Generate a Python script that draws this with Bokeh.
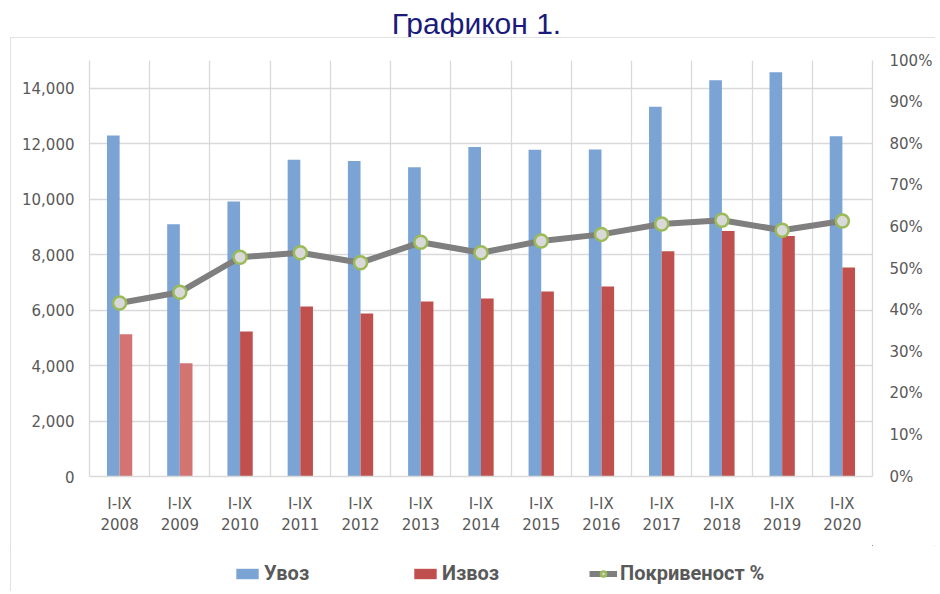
from bokeh.plotting import figure
from bokeh.models import (ColumnDataSource, FactorRange, Range1d, LinearAxis, NumeralTickFormatter,
                          PrintfTickFormatter, FixedTicker, Legend, LegendItem, Div)
from bokeh.transform import dodge
from bokeh.layouts import column
from bokeh.embed import file_html
from bokeh.resources import INLINE

# ---- data ----
period = "I-IX"
years = ["2008", "2009", "2010", "2011", "2012", "2013", "2014",
         "2015", "2016", "2017", "2018", "2019", "2020"]
imports = [12300, 9100, 9920, 11420, 11380, 11150, 11880, 11780, 11790, 13330, 14290, 14580, 12270]
exports = [5130, 4080, 5230, 6130, 5880, 6310, 6420, 6670, 6850, 8120, 8850, 8670, 7540]
coverage = [41.7, 44.3, 52.7, 53.8, 51.4, 56.3, 53.8, 56.6, 58.2, 60.7, 61.6, 59.2, 61.4]
left_ticks = [0, 2000, 4000, 6000, 8000, 10000, 12000, 14000]
right_ticks = [0, 10, 20, 30, 40, 50, 60, 70, 80, 90, 100]
series_names = ["Увоз", "Извоз", "Покривеност %"]
title_text = "Графикон 1."

factors = [f"{period}\n{y}" for y in years]
export_colors = ["#D47472", "#D47472"] + ["#C0504D"] * (len(years) - 2)

src = ColumnDataSource(dict(cat=factors, imp=imports, exp=exports, cov=coverage, ecol=export_colors))

TICK = "#595959"
GRID = "#d9d9d9"
BLUE = "#7BA3D3"
RED = "#C0504D"
LINE = "#7F7F7F"

p = figure(x_range=FactorRange(*factors), y_range=Range1d(0, 15000),
           width=925, height=508, output_backend="svg", toolbar_location=None,
           min_border_left=79, min_border_right=60, min_border_top=23, min_border_bottom=69,
           margin=(0, 0, 0, 0))
p.extra_y_ranges = {"pct": Range1d(0, 100)}
p.outline_line_color = None

p.vbar(x=dodge("cat", -0.105, range=p.x_range), top="imp", width=0.21, source=src,
       fill_color=BLUE, line_color=None)
p.vbar(x=dodge("cat", 0.105, range=p.x_range), top="exp", width=0.21, source=src,
       fill_color="ecol", line_color=None)
p.line(x="cat", y="cov", y_range_name="pct", source=src, line_color=LINE,
       line_width=6, line_join="round")
p.scatter(x="cat", y="cov", y_range_name="pct", source=src, size=13,
          fill_color="#D9D9D9", line_color="#9BBB59", line_width=2.5)

# axes
p.yaxis[0].ticker = FixedTicker(ticks=left_ticks)
p.yaxis[0].formatter = NumeralTickFormatter(format="0,0")
ra = LinearAxis(y_range_name="pct", ticker=FixedTicker(ticks=right_ticks),
                formatter=PrintfTickFormatter(format="%d%%"))
p.add_layout(ra, "right")

for ax in [p.yaxis[0], ra, p.xaxis[0]]:
    ax.major_tick_line_color = None
    ax.minor_tick_line_color = None
    ax.major_tick_out = 0
    ax.minor_tick_out = 0
    ax.axis_line_color = GRID
    ax.axis_line_width = 1.3
    ax.major_label_text_color = TICK
    ax.major_label_text_font = "DejaVu Sans"
    ax.major_label_text_font_size = "15px"
p.yaxis[0].major_label_standoff = 15
ra.major_label_standoff = 17
p.xaxis.major_label_text_line_height = 1.22
p.xaxis.major_label_standoff = 18

p.ygrid.grid_line_color = GRID
p.ygrid.grid_line_width = 1.3
p.xgrid.ticker = FixedTicker(ticks=list(range(len(years) + 1)))
p.xgrid.grid_line_color = GRID
p.xgrid.grid_line_width = 1.3

# legend strip (same chart box); its renderers lie entirely outside the strip's view
idx = list(range(len(years)))
pl = figure(width=925, height=46, output_backend="svg", toolbar_location=None,
            x_range=Range1d(-40, -39), y_range=Range1d(-40, -39),
            x_axis_type=None, y_axis_type=None, min_border=0, margin=(0, 0, 0, 0))
pl.outline_line_color = None
pl.grid.visible = False
l_imp = pl.vbar(x=idx, top=imports, width=0.2, fill_color=BLUE, line_color=None)
l_exp = pl.vbar(x=idx, top=exports, width=0.2, fill_color=RED, line_color=None)
l_line = pl.line(x=idx, y=coverage, line_color=LINE, line_width=6)
l_pts = pl.scatter(x=idx, y=coverage, size=11, fill_color="#D9D9D9", line_color="#9BBB59",
                   line_width=2.5)

legend = Legend(items=[LegendItem(label=series_names[0], renderers=[l_imp]),
                       LegendItem(label=series_names[1], renderers=[l_exp]),
                       LegendItem(label=series_names[2], renderers=[l_line, l_pts])],
                orientation="horizontal", location=(144, 6),
                glyph_width=28, glyph_height=13, label_standoff=3, label_width=143, spacing=4,
                padding=0, margin=0, border_line_color=None, background_fill_alpha=0,
                label_text_font="Roboto", label_text_font_style="bold",
                label_text_font_size="20px", label_text_color=TICK)
pl.add_layout(legend, "center")

box = column(p, pl, spacing=0, margin=(0, 0, 0, 10),
             styles={"outline": "1px solid #d9d9d9", "outline-offset": "-1px"})

title = Div(text=f'<div style="width:940px;padding-left:13px;text-align:center;'
                 f'font-family:\'Liberation Sans\';font-size:30px;color:#1a1a7a;'
                 f'line-height:30px;padding-top:9px;">{title_text}</div>',
            width=940, height=37, margin=(0, 0, 0, 0))

layout = column(title, box, spacing=0)
open("out.html", "w").write(file_html(layout, INLINE))
